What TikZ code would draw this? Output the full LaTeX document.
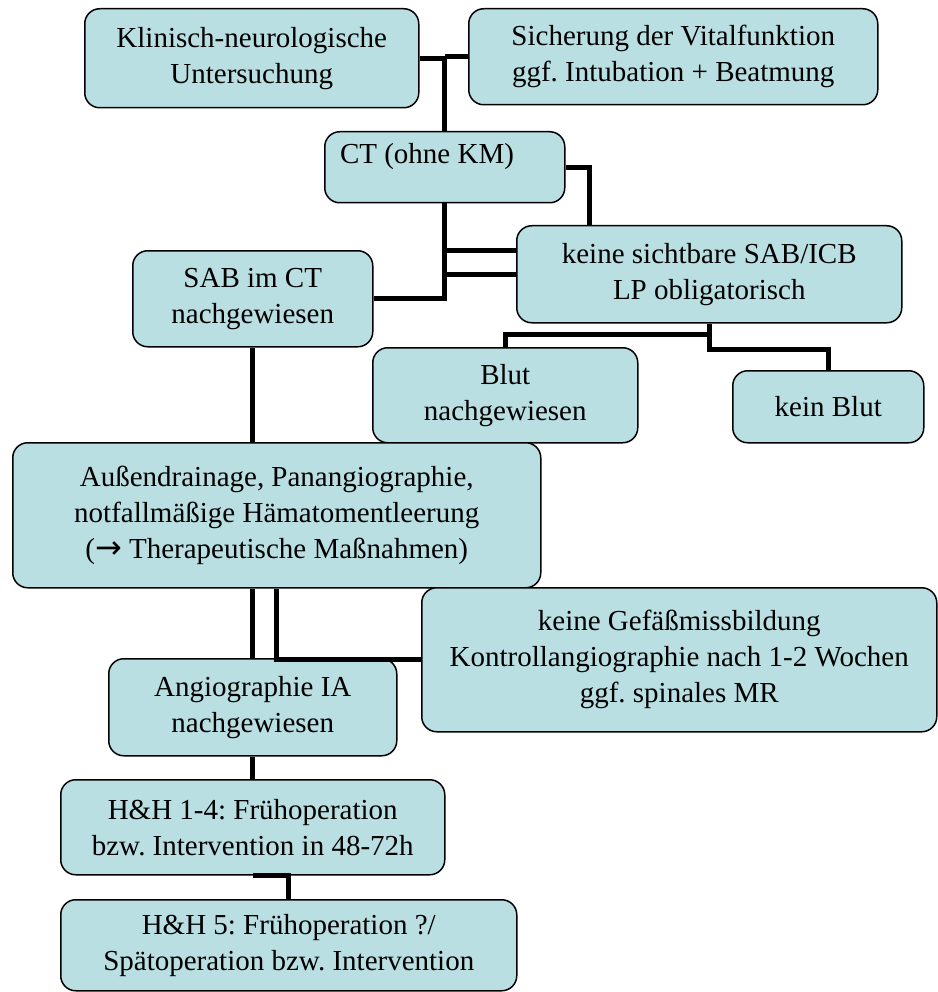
\documentclass[tikz,border=0pt]{standalone}
\usepackage{fontspec}
\setmainfont{Liberation Serif}
\newfontfamily\arrowfont{DejaVu Sans}
\usetikzlibrary{calc}
\definecolor{boxcol}{RGB}{185,223,226}
\tikzset{
  box/.style={draw=black, line width=1.5pt, rounded corners=15pt, fill=boxcol,
    inner sep=0pt, align=center, anchor=north west,
    font=\fontsize{29}{36}\selectfont\frenchspacing},
  conn/.style={draw=black, line width=5pt},
  lbl/.style={inner sep=0pt, font=\fontsize{29}{36}\selectfont\frenchspacing}
}
\begin{document}
\begin{tikzpicture}[x=1pt,y=-1pt]
\useasboundingbox (0,0) rectangle (937,992);
% boxes (left, top; width x height)
\node[box, minimum width=334pt, minimum height=99pt]  (klin)   at (84,8)    {Klinisch-neurologische\\Untersuchung};
\node[box, minimum width=409pt, minimum height=96pt]  (sich)   at (468,8)   {Sicherung der Vitalfunktion\\ggf. Intubation + Beatmung};
\node[box, minimum width=240pt, minimum height=71pt]  (ct)     at (324,131) {};
\node[lbl] (ctt) at (427,157) {CT (ohne KM)};
\node[box, minimum width=385pt, minimum height=97pt]  (keine)  at (516,225) {keine sichtbare SAB/ICB\\LP obligatorisch};
\node[box, minimum width=240pt, minimum height=96pt]  (sab)    at (132,250) {SAB im CT\\nachgewiesen};
\node[box, minimum width=265pt, minimum height=95pt]  (blut)   at (372,347) {Blut\\nachgewiesen};
\node[box, minimum width=191pt, minimum height=72pt]  (kblut)  at (732,370) {kein Blut};
\node[box, minimum width=528pt, minimum height=145pt] (aussen) at (12,442)  {Außendrainage, Panangiographie,\\notfallmäßige Hämatomentleerung\\({\arrowfont\fontsize{32}{36}\selectfont →} Therapeutische Maßnahmen)};
\node[box, minimum width=515pt, minimum height=144pt] (gef)    at (421,587) {keine Gefäßmissbildung\\Kontrollangiographie nach 1-2 Wochen\\ggf. spinales MR};
\node[box, minimum width=288pt, minimum height=97pt]  (angio)  at (108,658) {Angiographie IA\\nachgewiesen};
\node[box, minimum width=384pt, minimum height=95pt]  (hh1)    at (60,779)  {H\&H 1-4: Frühoperation\\bzw. Intervention in 48-72h};
\node[box, minimum width=456pt, minimum height=91pt]  (hh5)    at (60,899)  {H\&H 5: Frühoperation ?/\\Spätoperation bzw. Intervention};
% connectors
\draw[conn] (klin.east) -| (ct.north);
\draw[conn] (sich.west) -- (sich.west -| ct.north);
\draw[conn] (ct.east) -| ($(keine.north west)+(73,0)$);
\draw[conn] (ct.south) -- (ct.south |- sab.east) -- (sab.east);
\draw[conn] (keine.west) -- (keine.west -| ct.south);
\draw[conn] ($(keine.west)+(0,-23.5)$) coordinate (k2) -- (k2 -| ct.south);
\draw[conn] (keine.south) -- ++(0,11) -| (blut.north);
\draw[conn] (keine.south) -- ++(0,26) -| (kblut.north);
\draw[conn] (sab.south) -- (sab.south |- aussen.north);
\draw[conn] (angio.north |- aussen.south) -- (angio.north);
\draw[conn] (gef.west) -| ($(aussen.south west)+(264,0)$);
\draw[conn] (angio.south) -- (hh1.north);
\draw[conn] (hh1.south) -| ($(hh5.north west)+(228,0)$);
\end{tikzpicture}
\end{document}
